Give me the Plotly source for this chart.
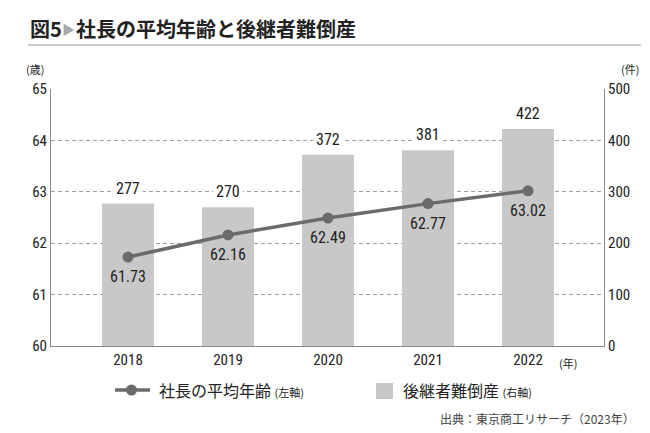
import plotly.graph_objects as go

years = ["2018", "2019", "2020", "2021", "2022"]
avg_age = [61.73, 62.16, 62.49, 62.77, 63.02]
bankruptcies = [277, 270, 372, 381, 422]
left_ticks = [60, 61, 62, 63, 64, 65]
right_ticks = [0, 100, 200, 300, 400, 500]

xpos = list(range(len(years)))
NUM_FONT = "Liberation Sans Narrow, Roboto Condensed, Roboto, Arial Narrow, sans-serif"
JP_FONT = "Noto Sans CJK JP, sans-serif"
BAR_C = "#c8c8c8"
LINE_C = "#6b6b6b"
AXIS_C = "#8a8a8a"
TXT = "#222222"

ML, MR, MT, MB = 43, 54, 81, 95
PW, PH = 650 - ML - MR, 433 - MT - MB


def px(x):
    return (x - ML) / PW


def py(y):
    return (433 - MB - y) / PH


fig = go.Figure()
fig.add_trace(go.Bar(
    x=xpos, y=bankruptcies, yaxis="y", width=0.52,
    marker=dict(color=BAR_C, line=dict(width=0)),
    name="後継者難倒産", showlegend=False,
))
fig.add_trace(go.Scatter(
    x=xpos, y=avg_age, yaxis="y2", mode="lines+markers",
    line=dict(color=LINE_C, width=3.5),
    marker=dict(color=LINE_C, size=11),
    name="社長の平均年齢", showlegend=False,
))

ann = []
for x, v in zip(xpos, bankruptcies):
    ann.append(dict(x=x, y=v, xref="x", yref="y", text=str(v), showarrow=False,
                    yanchor="bottom", yshift=3, bgcolor="white", borderpad=2,
                    font=dict(family=NUM_FONT, size=16, color=TXT)))
for x, v in zip(xpos, avg_age):
    ann.append(dict(x=x, y=v, xref="x", yref="y2", text=f"{v:.2f}", showarrow=False,
                    yanchor="top", yshift=-8,
                    font=dict(family=NUM_FONT, size=16, color=TXT)))


def label(x, y, text, size, anchor="left", color=TXT):
    return dict(x=px(x), y=py(y), xref="paper", yref="paper", xanchor=anchor,
                yanchor="middle", text=text, showarrow=False,
                font=dict(family=JP_FONT, size=size, color=color))


ann += [
    label(20, 21, "<b>図5</b>", 20),
    label(52, 21, "▶", 13, color="#a8a8a8"),
    label(66, 21, "<b>社長の平均年齢と後継者難倒産</b>", 20),
    label(16, 61, "(歳)", 11),
    label(633, 61, "(件)", 11, anchor="right"),
    label(549, 355, "(年)", 11),
    label(629, 410, "出典：東京商工リサーチ（2023年）", 12, anchor="right", color="#444444"),
    # legend texts
    label(149, 382, "社長の平均年齢 <span style='font-size:11px'>(左軸)</span>", 16),
    label(393, 382, "後継者難倒産 <span style='font-size:11px'>(右軸)</span>", 16),
]

shapes = [
    dict(type="line", xref="paper", yref="paper", x0=px(20), x1=px(633),
         y0=py(37), y1=py(37), line=dict(color="#999999", width=1)),
    # legend: line symbol
    dict(type="line", xref="paper", yref="paper", x0=px(107), x1=px(142),
         y0=py(382), y1=py(382), line=dict(color=LINE_C, width=3.5)),
    dict(type="circle", xref="paper", yref="paper", x0=px(118), x1=px(129),
         y0=py(376.5), y1=py(387.5), fillcolor=LINE_C, line=dict(width=0)),
    # legend: bar symbol
    dict(type="rect", xref="paper", yref="paper", x0=px(368), x1=px(385),
         y0=py(375), y1=py(391), fillcolor=BAR_C, line=dict(width=0)),
]

fig.update_layout(
    width=650, height=433,
    margin=dict(l=ML, r=MR, t=MT, b=MB),
    paper_bgcolor="white", plot_bgcolor="white",
    showlegend=False,
    annotations=ann,
    shapes=shapes,
    xaxis=dict(
        range=[-0.77, 4.76], tickvals=xpos, ticktext=years,
        showline=True, linecolor=AXIS_C, linewidth=1,
        showgrid=False, zeroline=False, ticks="",
        tickfont=dict(family=NUM_FONT, size=15, color=TXT),
    ),
    yaxis=dict(
        side="right", range=[0, 500], tickvals=right_ticks,
        showline=True, linecolor=AXIS_C, linewidth=1,
        showgrid=True, gridcolor="#a0a0a0", griddash="4px,3px", gridwidth=1,
        zeroline=False, ticks="",
        tickfont=dict(family=NUM_FONT, size=15, color=TXT),
    ),
    yaxis2=dict(
        side="left", overlaying="y", range=[60, 65], tickvals=left_ticks,
        showline=True, linecolor=AXIS_C, linewidth=1,
        showgrid=False, zeroline=False, ticks="",
        tickfont=dict(family=NUM_FONT, size=15, color=TXT),
    ),
)

fig.write_html("out.html")
